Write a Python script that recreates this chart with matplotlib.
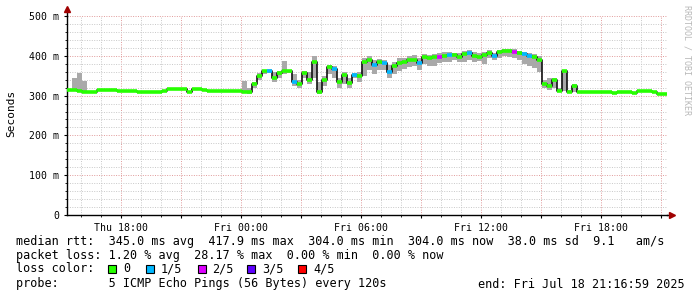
import numpy as np
import pandas as pd
import matplotlib
matplotlib.use('Agg')
import matplotlib.pyplot as plt
import matplotlib.dates as mdates
import matplotlib.ticker as mticker
from matplotlib.patches import Rectangle

# 15 minute bins, Thu 15:17 -> Fri 21:17
times = pd.date_range('2025-07-17 15:17', periods=120, freq='15min')

median_ms = [
    314, 314, 311, 310, 310, 310, 314, 314, 315, 313,
    312, 312, 312, 312, 310, 308, 308, 308, 308, 312,
    316, 316, 316, 316, 308, 316, 316, 314, 312, 312,
    312, 312, 312, 312, 312, 308, 310, 330, 350, 362,
    362, 345, 358, 362, 362, 335, 330, 358, 340, 385,
    308, 340, 372, 368, 335, 352, 332, 352, 350, 385,
    390, 378, 385, 382, 360, 375, 382, 385, 390, 390,
    382, 398, 395, 396, 397, 400, 402, 403, 398, 405,
    408, 400, 398, 402, 408, 400, 410, 412, 412, 410,
    407, 404, 400, 398, 390, 330, 325, 340, 312, 362,
    310, 325, 310, 308, 308, 308, 308, 308, 308, 307,
    310, 310, 310, 307, 311, 311, 311, 309, 303, 303,
]

smoke_lo = [
    312, 312, 309, 308, 308, 308, 312, 312, 313, 311,
    310, 310, 310, 310, 308, 306, 306, 306, 306, 310,
    314, 314, 314, 314, 306, 314, 314, 312, 310, 310,
    310, 310, 310, 310, 310, 306, 305, 320, 340, 355,
    358, 335, 345, 355, 358, 325, 320, 345, 330, 345,
    305, 325, 355, 345, 320, 330, 320, 345, 335, 350,
    365, 355, 365, 365, 345, 355, 362, 368, 372, 375,
    365, 380, 375, 375, 382, 385, 385, 390, 385, 385,
    390, 385, 388, 380, 395, 390, 395, 400, 398, 395,
    390, 380, 375, 370, 360, 320, 315, 318, 308, 312,
    308, 308, 308, 306, 306, 306, 306, 306, 306, 305,
    308, 308, 308, 305, 309, 309, 309, 307, 301, 301,
]

smoke_hi = [
    316, 344, 356, 336, 312, 312, 316, 316, 317, 315,
    314, 314, 314, 314, 312, 310, 310, 310, 310, 314,
    318, 318, 318, 318, 310, 318, 318, 316, 314, 314,
    314, 314, 314, 314, 314, 336, 318, 335, 356, 364,
    366, 360, 362, 388, 365, 355, 340, 362, 360, 400,
    335, 350, 378, 375, 345, 360, 345, 358, 360, 395,
    400, 390, 392, 390, 378, 385, 395, 395, 400, 402,
    395, 405, 402, 405, 406, 410, 410, 408, 406, 412,
    414, 410, 408, 410, 414, 408, 415, 416, 418, 416,
    412, 410, 406, 404, 400, 340, 345, 345, 320, 365,
    314, 330, 312, 310, 310, 310, 310, 310, 310, 309,
    312, 312, 312, 309, 313, 313, 313, 311, 305, 305,
]

# lost pings out of 5, per bin
loss = [
    0, 0, 0, 0, 0, 0, 0, 0, 0, 0,
    0, 0, 0, 0, 0, 0, 0, 0, 0, 0,
    0, 0, 0, 0, 0, 0, 0, 0, 0, 0,
    0, 0, 0, 0, 0, 0, 0, 0, 0, 0,
    1, 0, 0, 0, 0, 1, 0, 0, 0, 0,
    0, 0, 0, 1, 0, 0, 0, 1, 0, 0,
    0, 1, 0, 1, 1, 0, 0, 0, 0, 0,
    1, 0, 0, 0, 2, 0, 1, 0, 0, 0,
    1, 0, 0, 0, 0, 1, 0, 0, 0, 2,
    0, 1, 1, 0, 0, 0, 0, 0, 0, 0,
    0, 0, 0, 0, 0, 0, 0, 0, 0, 0,
    0, 0, 0, 0, 0, 0, 0, 0, 0, 0,
]

loss_labels = ['0', '1/5', '2/5', '3/5', '4/5']
loss_colors = ['#26ff00', '#00b8ff', '#dd00ff', '#5e00ff', '#ff0000']

legend_lines = [
    "median rtt:  345.0 ms avg  417.9 ms max  304.0 ms min  304.0 ms now  38.0 ms sd  9.1   am/s",
    "packet loss: 1.20 % avg  28.17 % max  0.00 % min  0.00 % now",
]
probe_text = "probe:       5 ICMP Echo Pings (56 Bytes) every 120s"
end_text = "end: Fri Jul 18 21:16:59 2025"

W, H = 697, 297
mono = 'DejaVu Sans Mono'
plt.rcParams['font.family'] = mono

fig = plt.figure(figsize=(W / 100, H / 100), dpi=100, facecolor='white')
ax = fig.add_axes([67 / W, 1 - 215 / H, 600 / W, 199 / H])

t = mdates.date2num(times)
step = 15 / 1440
med = np.array(median_ms)
lo = np.array(smoke_lo)
hi = np.array(smoke_hi)

ax.bar(t, hi - lo, bottom=lo, width=step, align='edge', color='#a9a9a9', linewidth=0, zorder=2)
ax.step(np.append(t, t[-1] + step), np.append(med, med[-1]), where='post',
        color='#111111', lw=1.2, zorder=3)
ax.hlines(med, t, t + step, colors=[loss_colors[l] for l in loss], lw=2.6, zorder=4)

start = mdates.date2num(pd.Timestamp('2025-07-17 15:16:59'))
ax.set_xlim(start, start + 30 / 24)
ax.set_ylim(0, 500)

# grid like rrdtool
ax.xaxis.set_major_locator(mdates.HourLocator(byhour=range(0, 24, 3)))
ax.xaxis.set_minor_locator(mdates.HourLocator())
ax.xaxis.set_major_formatter(mticker.FuncFormatter(
    lambda v, p: mdates.num2date(v).strftime('%a %H:%M') if mdates.num2date(v).hour % 6 == 0 else ''))
ax.yaxis.set_major_locator(mticker.MultipleLocator(100))
ax.yaxis.set_minor_locator(mticker.MultipleLocator(20))
ax.yaxis.set_major_formatter(mticker.FuncFormatter(lambda v, p: '0' if v == 0 else f'{int(v)} m'))

ax.grid(which='minor', color='#c8c8c8', ls=(0, (1, 1.5)), lw=0.7)
ax.grid(which='major', color='#e09a9a', ls=(0, (1, 1.5)), lw=0.7)
ax.set_axisbelow(True)

ax.tick_params(which='major', length=2.5, width=0.8, pad=3, labelsize=7.1, colors='black')
ax.tick_params(which='minor', length=1.2, width=0.6)
for s in ['top', 'right']:
    ax.spines[s].set_visible(False)
for s in ['left', 'bottom']:
    ax.spines[s].set_linewidth(1.0)
    ax.spines[s].set_color('black')

# axis arrows
ax.plot([1.0, 1.004], [0, 0], color='black', lw=1.0, transform=ax.transAxes, clip_on=False)
ax.plot([1.008], [0], marker='>', ms=4.5, color='#a00000', transform=ax.transAxes, clip_on=False)
ax.plot([0, 0], [1.0, 1.03], color='black', lw=1.0, transform=ax.transAxes, clip_on=False)
ax.plot([0], [1.033], marker='^', ms=4.5, color='#a00000', transform=ax.transAxes, clip_on=False)

fig.text(11 / W, 1 - 113 / H, 'Seconds', rotation=90, ha='center', va='center', fontsize=8)
fig.text(687 / W, 1 - 60 / H, 'RRDTOOL / TOBI OETIKER', rotation=270, ha='center', va='center',
         fontsize=6, color='#b8b8b8')

# legend block
fs = 8.5
fig.text(16 / W, 1 - 241 / H, legend_lines[0], fontsize=fs, va='center')
fig.text(16 / W, 1 - 255 / H, legend_lines[1], fontsize=fs, va='center')
fig.text(16 / W, 1 - 269 / H, 'loss color:', fontsize=fs, va='center')
box_x = [108, 146, 198, 247, 298]
label_x = [123, 161, 212, 262, 313]
for bx, lx, lab, col in zip(box_x, label_x, loss_labels, loss_colors):
    fig.patches.append(Rectangle((bx / W, 1 - 273 / H), 8 / W, 8 / H, transform=fig.transFigure,
                                 facecolor=col, edgecolor='black', lw=0.8))
    fig.text(lx / W, 1 - 269 / H, lab, fontsize=fs, va='center')
fig.text(16 / W, 1 - 284 / H, probe_text, fontsize=fs, va='center')
fig.text(478 / W, 1 - 284 / H, end_text, fontsize=fs, va='center')

fig.savefig('out.png', dpi=100, facecolor='white')
